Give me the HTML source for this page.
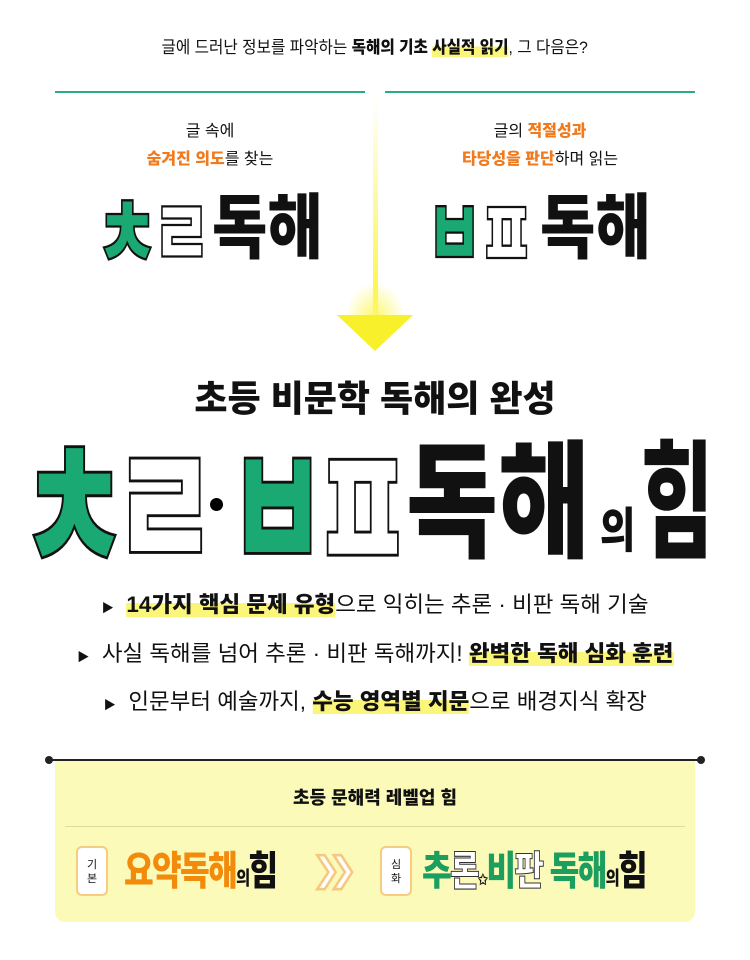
<!DOCTYPE html>
<html><head><meta charset="utf-8"><style>
*{margin:0;padding:0;box-sizing:border-box}
body{width:750px;height:960px;background:#fff;position:relative;overflow:hidden;font-family:"Liberation Sans","Noto Sans CJK KR",sans-serif;color:#111}
.c{position:absolute;left:0;width:100%;text-align:center;white-space:nowrap}
.t{display:inline-block}
.hl{background:linear-gradient(transparent 45%,#fbf57a 45%)}
.b{font-weight:900}
.or{color:#f07a1e}
.j{position:absolute;transform-origin:0 0;line-height:1;font-weight:900;white-space:nowrap}
.g{color:#1aa873;-webkit-text-stroke:1.5px #111}
.w{color:#fff;-webkit-text-stroke:1.5px #111}
</style></head><body>

<div class="c" style="top:33px;font-size:17px;"><span class="t" style="transform:scaleX(.92)">글에 드러난 정보를 파악하는 <b class="b">독해의 기초</b> <b class="b hl">사실적 읽기</b>, 그 다음은?</span></div>

<div style="position:absolute;left:55px;top:91px;width:310px;height:2px;background:#2bab84"></div>
<div style="position:absolute;left:385px;top:91px;width:310px;height:2px;background:#2bab84"></div>

<div style="position:absolute;left:373px;top:100px;width:5px;height:215px;background:linear-gradient(#fff,#fbf53a)"></div>
<div style="position:absolute;left:345px;top:282px;width:60px;height:36px;background:radial-gradient(ellipse at 50% 100%,#fdf86a,rgba(255,255,255,0) 70%)"></div>
<div style="position:absolute;left:337px;top:315px;width:0;height:0;border-left:38px solid transparent;border-right:38px solid transparent;border-top:36px solid #f8f02a"></div>

<div style="position:absolute;left:60px;width:300px;top:118px;text-align:center;font-size:16px;line-height:28px">글 속에<br><span class="or b">숨겨진 의도</span>를 찾는</div>
<div style="position:absolute;left:390px;width:300px;top:118px;text-align:center;font-size:16px;line-height:28px">글의 <span class="or b">적절성과</span><br><span class="or b">타당성을 판단</span>하며 읽는</div>

<div class="j g" style="font-size:62px;left:96px;top:190px;transform:scale(1.1,1.55)">ㅊ</div>
<div class="j w" style="font-size:62px;left:152px;top:190px;transform:scale(1.05,1.55)">ㄹ</div>
<div class="j" style="font-size:62px;left:212px;top:194px;transform:scale(.97,1.15)">독해</div>
<div class="j g" style="font-size:62px;left:426px;top:190px;transform:scale(1.0,1.55)">ㅂ</div>
<div class="j w" style="font-size:62px;left:478px;top:190px;transform:scale(1.0,1.55)">ㅍ</div>
<div class="j" style="font-size:62px;left:540px;top:194px;transform:scale(.97,1.15)">독해</div>

<div class="c" style="top:374px;font-size:36px;font-weight:900;line-height:50px">초등 비문학 독해의 완성</div>

<div class="j g" style="font-size:125px;left:20px;top:424px;transform:scale(.95,1.45);-webkit-text-stroke:2px #111">ㅊ</div>
<div class="j w" style="font-size:125px;left:112px;top:424px;transform:scale(.93,1.45);-webkit-text-stroke:2px #111">ㄹ</div>
<div style="position:absolute;left:210px;top:498px;width:13px;height:13px;border-radius:50%;background:#000"></div>
<div class="j g" style="font-size:125px;left:227px;top:424px;transform:scale(.88,1.45);-webkit-text-stroke:2px #111">ㅂ</div>
<div class="j w" style="font-size:125px;left:312px;top:424px;transform:scale(.88,1.45);-webkit-text-stroke:2px #111">ㅍ</div>
<div class="j" style="font-size:125px;left:406px;top:440px;transform:scale(.8,1.02)">독해</div>
<div class="j" style="font-size:48px;left:600px;top:508px;transform:scale(.8,1)">의</div>
<div class="j" style="font-size:125px;left:641px;top:440px;transform:scale(.63,1.02)">힘</div>

<div class="c" style="top:589px;font-size:22px;line-height:32px"><span class="t" style="transform:scaleX(1.02)"><span style="font-size:12px">▶</span>&nbsp; <b class="b hl">14가지 핵심 문제 유형</b>으로 익히는 추론 · 비판 독해 기술</span></div>
<div class="c" style="top:638px;font-size:22px;line-height:32px"><span class="t" style="transform:scaleX(1.02)"><span style="font-size:12px">▶</span>&nbsp; 사실 독해를 넘어 추론 · 비판 독해까지! <b class="b hl">완벽한 독해 심화 훈련</b></span></div>
<div class="c" style="top:686px;font-size:22px;line-height:32px"><span class="t" style="transform:scaleX(1.02)"><span style="font-size:12px">▶</span>&nbsp; 인문부터 예술까지, <b class="b hl">수능 영역별 지문</b>으로 배경지식 확장</span></div>

<div style="position:absolute;left:55px;top:760px;width:640px;height:162px;background:#fcfab8;border-radius:0 0 10px 10px"></div>
<div style="position:absolute;left:48px;top:759px;width:654px;height:2px;background:#222"></div>
<div style="position:absolute;left:45px;top:756px;width:8px;height:8px;border-radius:50%;background:#222"></div>
<div style="position:absolute;left:697px;top:756px;width:8px;height:8px;border-radius:50%;background:#222"></div>
<div class="c" style="top:784px;font-size:18px;font-weight:900">초등 문해력 레벨업 힘</div>
<div style="position:absolute;left:65px;top:826px;width:620px;height:1px;background:#e0dc98"></div>

<div style="position:absolute;left:76px;top:846px;width:32px;height:50px;background:#fff;border:2px solid #f6cc80;border-radius:6px;font-size:11px;line-height:14px;text-align:center;padding-top:10px">기<br>본</div>
<div style="position:absolute;left:124px;top:846px;font-size:38px;font-weight:900;line-height:52px;white-space:nowrap;letter-spacing:-2px"><span class="t" style="transform:scale(.85,1.05);transform-origin:left"><span style="color:#f28a0c">요약독해</span><span style="font-size:18px">의</span>힘</span></div>
<div style="position:absolute;left:312px;top:850px;font-size:34px;font-weight:900;color:#fff;-webkit-text-stroke:1.5px #f6c880;letter-spacing:-12px">❯❯</div>
<div style="position:absolute;left:380px;top:846px;width:32px;height:50px;background:#fff;border:2px solid #f6cc80;border-radius:6px;font-size:11px;line-height:14px;text-align:center;padding-top:10px">심<br>화</div>
<div style="position:absolute;left:422px;top:846px;font-size:38px;font-weight:900;line-height:52px;white-space:nowrap;letter-spacing:-2px"><span class="t" style="transform:scale(.85,1.05);transform-origin:left"><span style="color:#1b9e5e">추</span><span class="w" style="-webkit-text-stroke:1px #333">론</span><span style="font-size:14px">✩</span><span style="color:#1b9e5e">비</span><span class="w" style="-webkit-text-stroke:1px #333">판</span> <span style="color:#1b9e5e">독해</span><span style="font-size:18px">의</span>힘</span></div>

</body></html>
